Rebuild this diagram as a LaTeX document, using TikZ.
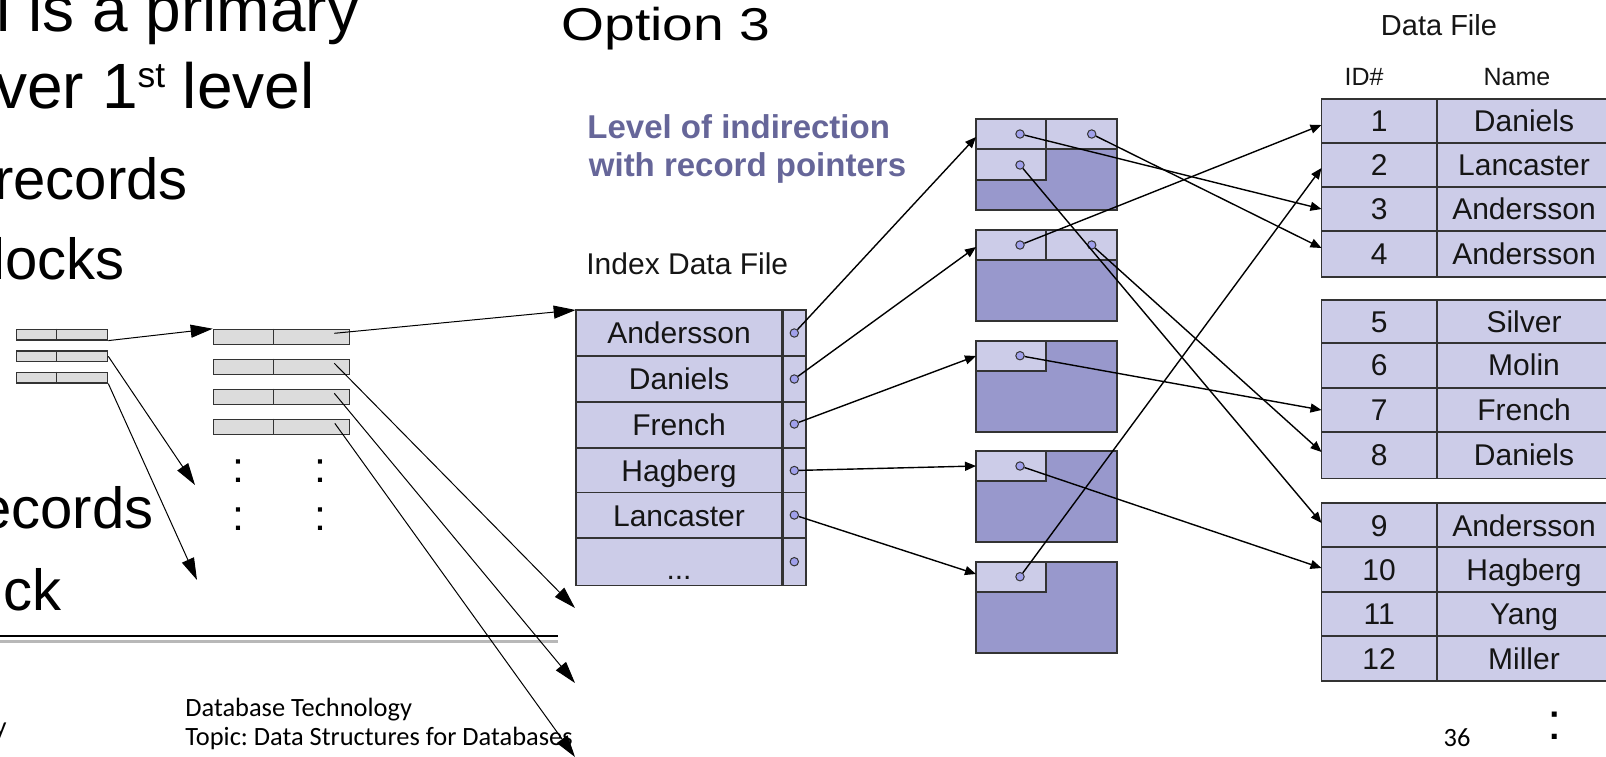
\documentclass[tikz,border=0pt]{standalone}
\usepackage{fontspec}
\setmainfont{Liberation Sans}
\newfontfamily\carlito{Carlito}
\usetikzlibrary{arrows.meta}
\frenchspacing
\newcommand{\fsz}[1]{\fontsize{#1}{#1}\selectfont}
\definecolor{cellL}{HTML}{CCCCE8}
\definecolor{cellD}{HTML}{9898CC}
\definecolor{ptrfill}{HTML}{A0A0EB}
\definecolor{heading}{HTML}{666699}
\definecolor{barfill}{HTML}{DCDCDC}
\definecolor{edge}{HTML}{333333}
\definecolor{txt}{HTML}{151515}
\begin{document}
\begin{tikzpicture}[x=0.5pt,y=-0.5pt,
  slide/.style={inner sep=0pt, anchor=base east, font=\fsz{32pt}},
  slidesm/.style={inner sep=0pt, anchor=base east, font=\fsz{29pt}},
  foot/.style={inner sep=0pt, anchor=base west, font=\carlito\fsz{13.2pt}},
  sbar/.style={draw=edge, fill=barfill, line width=0.6pt, inner sep=0pt, minimum width=45.5pt, minimum height=5.35pt},
  lbar/.style={draw=edge, fill=barfill, line width=0.6pt, inner sep=0pt, minimum width=68pt, minimum height=7.7pt},
  barline/.style={draw=edge, line width=0.6pt},
  bigarrow/.style={line width=0.5pt, -{Triangle[length=11pt,width=6.5pt]}},
  arr/.style={line width=0.7pt, -{Triangle[length=5.5pt,width=4.5pt]}},
  cell/.style={draw=edge, fill=cellL, line width=0.9pt},
  dark/.style={draw=edge, fill=cellD, line width=0.9pt},
  ptr/.style={circle, draw=edge, fill=ptrfill, inner sep=0pt, minimum size=4.2pt, line width=0.5pt},
  ttext/.style={inner sep=0pt, anchor=base, font=\fsz{15pt}, text=txt},
  colon/.style={inner sep=0pt, anchor=base, font=\fsz{21.5pt}},
]
\useasboundingbox (0,0) rectangle (1606,756);

% ---------- left slide text ----------
\node[slide] (t1) at (359.5,31.7) {l is a primary};
\node[slide] (t2) at (315,108.3) {ver 1\raisebox{10.65pt}{\fsz{17.7pt}st} level};
\node[slidesm] (t3) at (188,199) {records};
\node[slidesm] (t4) at (125,279.3) {locks};
\node[slidesm] (t5) at (153.7,528.3) {ecords};
\node[slidesm] (t6) at (61.5,610) {ck};

% ---------- small index bars ----------
\node[sbar] (s1) at (62.2,334.65) {};
\node[sbar] (s2) at (62.2,356.35) {};
\node[sbar] (s3) at (62.2,377.65) {};
\foreach \n in {s1,s2,s3}{\draw[barline] (\n.north west) ++(40.6,0) -- ++(0,10.7);}
\node[lbar] (b1) at (281.3,337) {};
\node[lbar] (b2) at (281.3,367) {};
\node[lbar] (b3) at (281.3,397) {};
\node[lbar] (b4) at (281.3,427) {};
\foreach \n in {b1,b2,b3,b4}{\draw[barline] (\n.north west) ++(61,0) -- ++(0,15.4);}

\node[colon] (cA1) at (238,482.2) {:};
\node[colon] (cA2) at (238,530.2) {:};
\node[colon] (cB1) at (320,482.2) {:};
\node[colon] (cB2) at (320,530.2) {:};

% separator and footer
\draw[line width=1.1pt] (0,636) -- (558,636);
\draw[line width=1.2pt, black!28] (0,641.5) -- (558,641.5);
\node[foot] (f1) at (185,716) {Database Technology};
\node[foot] (f2) at (185,745) {Topic: Data Structures for Databases};
\node[foot, anchor=base east] (fy) at (7,735) {y};
\node[inner sep=0pt, anchor=base, font=\carlito\fsz{13.2pt}] (pg) at (1457,746.5) {36};
\node[colon, font=\fsz{26pt}] (cR) at (1555,739.4) {:};

% ---------- right diagram headings ----------
\node[inner sep=0pt, anchor=base west, font=\fsz{23pt}] (opt) at (561,40) {\scalebox{1.2}[1]{Option 3}};
\node[inner sep=0pt, anchor=base west, font=\bfseries\fsz{16.5pt}, text=heading] (lv1) at (587,138.3) {Level of indirection};
\node[inner sep=0pt, anchor=base west, font=\bfseries\fsz{16.5pt}, text=heading] (lv2) at (588.5,176.7) {with record pointers};
\node[inner sep=0pt, anchor=base west, font=\fsz{15pt}, text=txt] (idf) at (586,274) {Index Data File};
\node[inner sep=0pt, anchor=base, font=\fsz{14.5pt}, text=txt] (df) at (1439,35) {Data File};
\node[inner sep=0pt, anchor=base, font=\fsz{12.5pt}, text=txt] (hid) at (1364,85) {ID\#};
\node[inner sep=0pt, anchor=base, font=\fsz{12.5pt}, text=txt] (hnm) at (1517,85) {Name};

% ---------- index table ----------
\foreach \t/\b/\nm/\lab in {310/356/iA/Andersson, 356/402/iD/Daniels, 402/448/iF/French, 448/492.5/iH/Hagberg, 492.5/538/iL/Lancaster, 538/585.5/iE/{}}{
  \draw[cell] (575.7,\t) rectangle (782.3,\b);
  \draw[cell] (782.3,\t) rectangle (805.7,\b);
  \node[ttext] (\nm) at (679,{(\t+\b)/2+10.75}) {\lab};
}
\node[ttext] (iDots) at (679,579) {...};
\draw[edge, line width=1.5pt] (782.3,310) -- (782.3,585.5);
\node[ptr] (pA) at (794.3,333) {};
\node[ptr] (pD) at (794.3,379) {};
\node[ptr] (pF) at (794.3,424) {};
\node[ptr] (pH) at (794.3,470.5) {};
\node[ptr] (pL) at (794.3,515) {};
\node[ptr] (pE) at (794.3,561.7) {};

% ---------- indirection blocks ----------
\foreach \T [count=\k] in {119,230,340.7,451,561.7}{
  \draw[dark] (976,\T) rectangle (1116.7,\T+91);
  \draw[cell] (976,\T) rectangle (1046,\T+30.3);
}
\draw[cell] (1046,119) rectangle (1116.7,149.3);
\draw[cell] (976,149.3) rectangle (1046,180);
\draw[cell] (1046,230) rectangle (1116.7,260.3);
\node[ptr] (q1a) at (1020,134) {};
\node[ptr] (q1b) at (1091.7,134) {};
\node[ptr] (q1c) at (1020,165) {};
\node[ptr] (q2a) at (1020,245) {};
\node[ptr] (q2b) at (1091.7,245) {};
\node[ptr] (q3) at (1020,355.7) {};
\node[ptr] (q4) at (1020,466) {};
\node[ptr] (q5) at (1020,576.7) {};

% ---------- data file ----------
\foreach \t/\b/\n/\nm in {99/143.3/1/Daniels, 143.3/186.7/2/Lancaster, 186.7/230.7/3/Andersson, 230.7/277/4/Andersson, 300/342.7/5/Silver, 342.7/387.7/6/Molin, 387.7/431.7/7/French, 431.7/478.5/8/Daniels, 503.3/547.3/9/Andersson, 547.3/592/10/Hagberg, 592/636/11/Yang, 636/681/12/Miller}{
  \draw[cell] (1321.5,\t) rectangle (1436.7,\b);
  \draw[cell] (1436.7,\t) rectangle (1614,\b);
  \node[ttext] (n\n) at (1379.1,{(\t+\b)/2+10.75}) {\n};
  \node[ttext] (m\n) at (1524,{(\t+\b)/2+10.75}) {\nm};
}

% ---------- coordinates of arrow tips ----------
\coordinate (tS2) at (195,485);
\coordinate (tS3) at (197,580);
\coordinate (b1p) at (334.3,333.3);
\coordinate (b2p) at (334.3,363.3);
\coordinate (b3p) at (334.3,393.3);
\coordinate (b4p) at (334.8,423.3);
\coordinate (iTL) at (575.7,310);
\coordinate (tB2) at (575,608);
\coordinate (tB3) at (575,683);
\coordinate (tB4) at (575,757);
\coordinate (k1) at (976,137);
\coordinate (k2) at (976,247);
\coordinate (k3) at (976,356);
\coordinate (k4) at (976,466);
\coordinate (k5) at (976,574);
\coordinate (d1) at (1321.5,125);
\coordinate (d2) at (1321.5,168);
\coordinate (d3) at (1321.5,209);
\coordinate (d4) at (1321.5,248);
\coordinate (d7) at (1321.5,410);
\coordinate (d8) at (1321.5,452);
\coordinate (d9) at (1321.5,523);
\coordinate (d10) at (1321.5,568);

% ---------- connectors ----------
\draw[bigarrow] (s1.south east) -- (b1.north west);
\draw[bigarrow] (s2.east) -- (tS2);
\draw[bigarrow] (s3.south east) -- (tS3);
\draw[bigarrow] (b1p) -- (iTL);
\draw[bigarrow] (b2p) -- (tB2);
\draw[bigarrow] (b3p) -- (tB3);
\draw[bigarrow] (b4p) -- (tB4);

\draw[arr] (pA) -- (k1);
\draw[arr] (pD) -- (k2);
\draw[arr] (pF) -- (k3);
\draw[arr] (pH) -- (k4);
\draw[arr] (pL) -- (k5);

\draw[arr] (q1a) -- (d3);
\draw[arr] (q1b) -- (d4);
\draw[arr] (q1c) -- (d9);
\draw[arr] (q2a) -- (d1);
\draw[arr] (q2b) -- (d8);
\draw[arr] (q3) -- (d7);
\draw[arr] (q4) -- (d10);
\draw[arr] (q5) -- (d2);
\end{tikzpicture}
\end{document}
